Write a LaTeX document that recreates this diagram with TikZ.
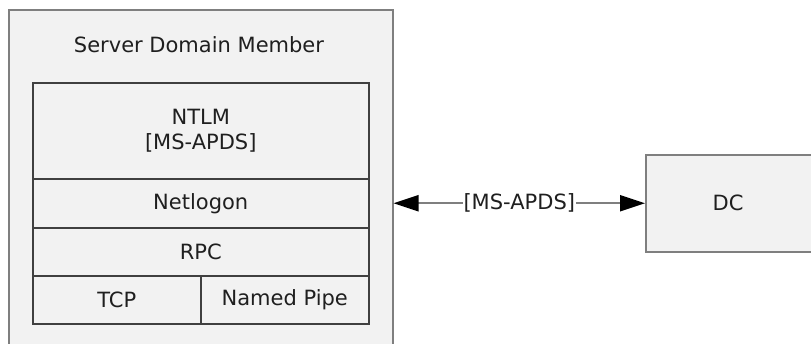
\documentclass[tikz,border=0pt]{standalone}
\usepackage{fontspec}
\setmainfont{DejaVu Sans}
\usetikzlibrary{arrows.meta}
\definecolor{boxfill}{HTML}{F2F2F2}
\definecolor{outerline}{HTML}{7F7F7F}
\definecolor{innerline}{HTML}{404040}
\definecolor{txt}{HTML}{1F1F1F}
\begin{document}
\begin{tikzpicture}[x=1pt,y=-1pt,
  every node/.style={font=\fontsize{21}{25}\selectfont, text=txt},
  outerbox/.style={draw=outerline, fill=boxfill, line width=1.5pt, rectangle, inner sep=0pt, anchor=north west},
  layerbox/.style={draw=innerline, fill=boxfill, line width=1.5pt, rectangle, inner sep=0pt, anchor=north west, align=center},
  conn/.style={draw=outerline, line width=2pt, {Triangle[length=25pt,width=16pt,black]}-{Triangle[length=25pt,width=16pt,black]}}
]
\useasboundingbox (0,0) rectangle (811,343);
\node[outerbox, minimum width=384pt, minimum height=360pt] (srv) at (8,9) {};
\node (srvtitle) at (199,45) {Server Domain Member};
\node[layerbox, minimum width=336pt, minimum height=96pt] (ntlm) at (32,82) {NTLM\\{}[MS-APDS]};
\node[layerbox, minimum width=336pt, minimum height=49pt] (netlogon) at (32,178) {Netlogon};
\node[layerbox, minimum width=336pt, minimum height=48pt] (rpc) at (32,227) {RPC};
\node[layerbox, minimum width=168pt, minimum height=48pt] (tcp) at (32,275) {TCP};
\node[layerbox, minimum width=168pt, minimum height=48pt] (pipe) at (200,275) {Named Pipe};
\node[outerbox, minimum width=180pt, minimum height=97pt] (dc) at (645,154) {};
\node (dclabel) at (728,202.5) {DC};
\draw[conn] (dc.west -| srv.east) -- node[fill=white, inner sep=1pt] (apds) {[MS-APDS]} (dc.west);
\end{tikzpicture}
\end{document}
